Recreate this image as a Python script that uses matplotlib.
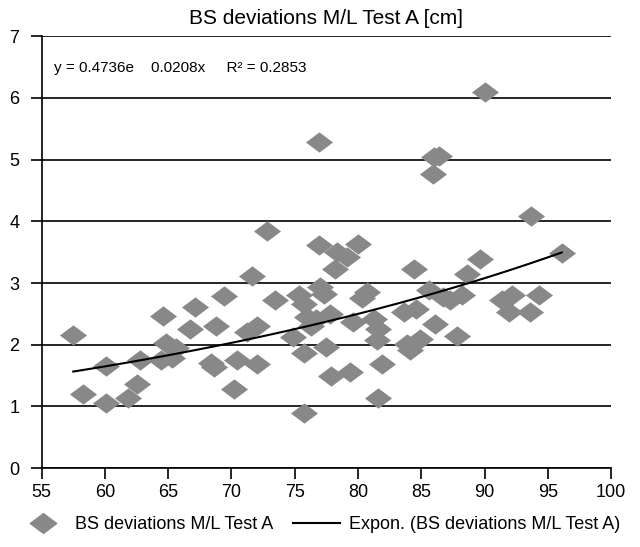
import numpy as np
import matplotlib.pyplot as plt
from matplotlib.path import Path
from matplotlib.lines import Line2D

plt.rcParams['font.family'] = ['Liberation Sans', 'DejaVu Sans']

# values
x_vals = [57.5, 58.3, 60.1, 60.1, 61.8, 62.5, 62.8, 64.6, 64.8, 64.4,
          65.3, 65.6, 66.7, 67.1, 68.4, 68.6, 68.8, 69.4, 70.2, 70.4,
          71.2, 71.6, 72.0, 72.0, 72.8, 73.4, 74.9, 75.3, 75.7, 75.7,
          75.7, 76.3, 76.9, 76.9, 77.0, 77.3, 77.5, 77.8, 78.3, 78.2,
          79.1, 77.9, 79.4, 79.6, 80.0, 80.3, 80.7, 81.3, 81.6, 81.5,
          81.9, 81.6, 83.6, 83.9, 84.1, 84.4, 84.6, 84.9, 85.6, 85.9,
          86.4, 86.0, 86.1, 86.7, 87.3, 87.8, 88.2, 88.6, 89.6, 90.0,
          91.4, 92.2, 91.9, 93.6, 93.7, 94.3, 96.1, 76.7, 76.0]
y_vals = [2.16, 1.20, 1.66, 1.06, 1.13, 1.36, 1.76, 2.46, 2.03, 1.75,
          1.78, 1.95, 2.25, 2.61, 1.71, 1.64, 2.31, 2.79, 1.29, 1.75,
          2.21, 3.12, 2.31, 1.69, 3.85, 2.73, 2.12, 2.81, 2.66, 1.86,
          0.89, 2.31, 5.28, 3.61, 2.93, 2.83, 1.96, 2.50, 3.50, 3.23,
          3.42, 1.50, 1.56, 2.37, 3.64, 2.75, 2.85, 2.42, 2.26, 2.07,
          1.69, 1.13, 2.53, 2.02, 1.91, 3.22, 2.58, 2.10, 2.88, 4.77,
          5.06, 5.04, 2.34, 2.77, 2.72, 2.15, 2.80, 3.15, 3.39, 6.09,
          2.72, 2.80, 2.53, 2.53, 4.09, 2.80, 3.48, 2.42, 2.45]

# exponential trendline coefficients (from chart label)
coef_a = 0.4736
coef_b = 0.0208

# wide flat diamond like the Excel marker
diamond = Path([(-1, 0), (0, 0.75), (1, 0), (0, -0.75), (-1, 0)],
               [Path.MOVETO, Path.LINETO, Path.LINETO, Path.LINETO, Path.CLOSEPOLY])

fig = plt.figure(figsize=(6.4, 5.47), dpi=100)
ax = fig.add_axes([0.065, 0.144, 0.89, 0.79])

ax.scatter(x_vals, y_vals, marker=diamond, s=380, color='#888888',
           linewidths=0, zorder=3)

xs = np.linspace(min(x_vals), max(x_vals), 100)
ax.plot(xs, coef_a * np.exp(coef_b * xs), color='black', lw=1.5, zorder=4)

ax.set_xlim(55, 100)
ax.set_ylim(0, 7)
ax.set_xticks(range(55, 101, 5))
ax.set_yticks(range(0, 8))
ax.yaxis.grid(True, color='black', lw=1.2)
ax.set_axisbelow(True)
for s in ['top', 'right']:
    ax.spines[s].set_visible(False)
ax.spines['left'].set_linewidth(1.2)
ax.spines['bottom'].set_linewidth(1.2)
ax.tick_params(axis='both', direction='out', length=8, width=1.2, labelsize=13)
ax.tick_params(axis='y', pad=8)

ax.set_title('BS deviations M/L Test A [cm]', fontsize=15, pad=9)
ax.text(56.0, 6.48, 'y = 0.4736e    0.0208x     R\u00b2 = 0.2853',
        fontsize=11, va='center', ha='left')

handles = [Line2D([], [], marker=diamond, ms=19, color='#888888', lw=0),
           Line2D([], [], color='black', lw=1.5)]
fig.legend(handles, ['BS deviations M/L Test A', 'Expon. (BS deviations M/L Test A)'],
           loc='lower center', bbox_to_anchor=(0.5, -0.005), ncol=2, frameon=False,
           fontsize=13, handlelength=2.6, columnspacing=1.1, handletextpad=0.5)

fig.savefig('out.png', dpi=100)
